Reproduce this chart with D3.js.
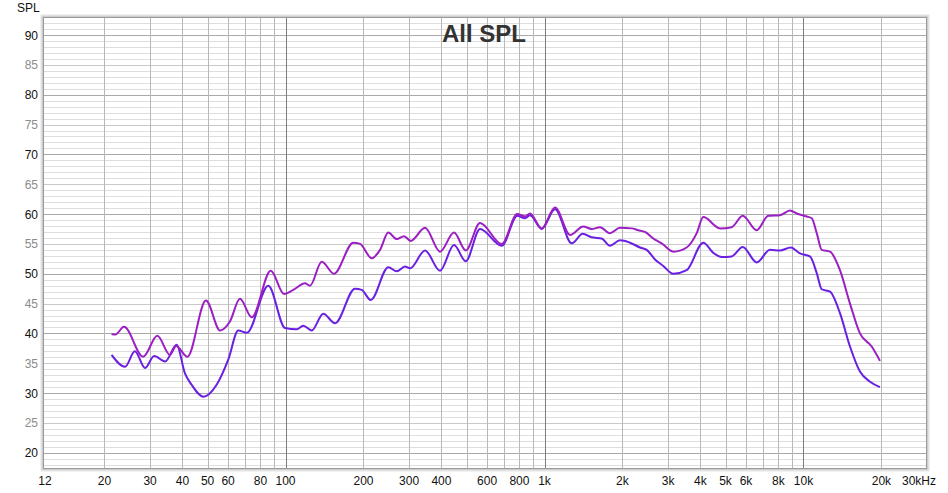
<!DOCTYPE html>
<html>
<head>
<meta charset="utf-8">
<script src="https://cdn.jsdelivr.net/npm/d3@7"></script>
<style>
  html, body { margin: 0; padding: 0; background: #fff; }
  svg { display: block; font-family: "Liberation Sans", Arial, sans-serif; }
</style>
</head>
<body>
<svg id="chart" width="948" height="493"></svg>
<script>
// ---- data ----
const title = "All SPL";
const yAxisTitle = "SPL";

const freqUpper = [21.3, 22.0, 23.8, 28.2, 32.0, 35.8, 37.8, 41.8, 49.3, 55.9, 61.0, 66.7, 74.1, 87.7, 98.7,
  107.2, 118.9, 124.3, 138.0, 153.9, 182.7, 194.0, 215.2, 231.7, 249.4, 268.8, 286.8, 304.3, 345.7, 395.0,
  447.3, 496.5, 563.6, 683.6, 785.2, 840.9, 879.0, 975.4, 1098, 1255, 1412, 1521, 1638, 1790, 1956, 2172,
  2302, 2443, 2671, 2835, 3143, 3540, 3870, 4103, 4761, 5282, 5826, 6596, 7312, 8115, 8870, 9413, 10290,
  10760, 11250, 11760, 12660, 13830, 15120, 16520, 18340, 19740];
const splUpper = [39.9, 39.8, 41.1, 36.1, 39.6, 36.4, 37.9, 36.1, 45.5, 40.5, 42.0, 45.8, 42.7, 50.5, 46.6,
  47.3, 48.4, 48.0, 52.0, 50.0, 55.2, 55.0, 52.6, 54.0, 56.9, 55.8, 56.3, 55.5, 57.7, 53.7,
  56.9, 53.9, 58.5, 55.0, 60.0, 59.6, 60.1, 57.6, 61.1, 56.5, 57.9, 57.5, 57.8, 56.8, 57.7, 57.6,
  57.3, 57.0, 55.7, 55.1, 53.7, 54.4, 56.8, 59.5, 57.6, 57.8, 59.7, 57.3, 59.7, 59.8, 60.6, 60.1, 59.6,
  59.3, 56.8, 54.0, 53.7, 50.6, 45.0, 40.0, 37.8, 35.4];

const freqLower = [21.3, 24.0, 26.2, 28.7, 31.1, 34.3, 38.0, 40.9, 43.4, 48.2, 54.2, 60.1, 65.7, 70.9, 85.8,
  99.6, 110.5, 117.1, 126.2, 139.9, 155.3, 185.5, 196.9, 213.3, 249.4, 268.8, 289.3, 302.5, 345.7, 395.0,
  447.3, 496.5, 563.6, 683.6, 785.2, 840.9, 879.0, 975.4, 1098, 1274, 1405, 1521, 1663, 1790, 1956, 2138,
  2338, 2481, 2671, 2875, 3143, 3540, 4103, 4485, 4833, 5282, 5826, 6596, 7425, 8115, 8925, 9694, 10590,
  11250, 11760, 12660, 13830, 15120, 16520, 18070, 19740];
const splLower = [36.4, 34.4, 37.0, 34.2, 36.2, 35.3, 38.1, 33.3, 31.4, 29.4, 31.4, 35.6, 40.5, 40.1, 48.0,
  40.9, 40.7, 41.3, 40.5, 43.3, 41.7, 47.5, 47.3, 45.6, 51.1, 50.4, 51.2, 50.9, 53.9, 50.5,
  54.8, 52.1, 57.5, 54.7, 59.7, 59.3, 59.8, 57.5, 60.8, 55.1, 56.7, 56.1, 55.9, 54.7, 55.6, 55.2,
  54.4, 54.0, 52.4, 51.3, 50.0, 50.6, 55.2, 53.5, 52.8, 52.9, 54.5, 51.9, 54.0, 53.9, 54.4, 53.4, 52.9,
  50.1, 47.4, 47.0, 43.4, 37.8, 33.6, 31.9, 31.0];

const xTickValues = [12, 20, 30, 40, 50, 60, 80, 100, 200, 300, 400, 600, 800, 1000, 2000, 3000, 4000, 5000, 6000, 8000, 10000, 20000];
const xTickLabels = ["12", "20", "30", "40", "50", "60", "80", "100", "200", "300", "400", "600", "800", "1k", "2k", "3k", "4k", "5k", "6k", "8k", "10k", "20k"];
const xEndLabel = "30kHz";
const xGridValues = [20, 30, 40, 50, 60, 70, 80, 90, 100, 200, 300, 400, 500, 600, 700, 800, 900, 1000,
  2000, 3000, 4000, 5000, 6000, 7000, 8000, 9000, 10000, 20000];
const xMajorGrid = [100, 1000, 10000];
const yTickValues = [20, 25, 30, 35, 40, 45, 50, 55, 60, 65, 70, 75, 80, 85, 90];

const colorUpper = "#9b1fc2";
const colorLower = "#6a20e2";

// ---- layout ----
const svg = d3.select("#chart");
const L = 44, R = 926, T = 18, B = 468;
const x = d3.scaleLog().domain([11.68, 29720]).range([L, R]);
const y = d3.scaleLinear().domain([17.45, 92.85]).range([B, T]);

// frame shadow
const frame = svg.append("g");
[[3, "#e4e4e4"], [2, "#cfcfcf"], [1, "#b4b4b4"]].forEach(([o, c]) => {
  frame.append("rect").attr("x", L - o).attr("y", T - o)
    .attr("width", R - L + 2 * o).attr("height", B - T + 2 * o)
    .attr("fill", "none").attr("stroke", c).attr("stroke-width", 1);
});
svg.append("rect").attr("x", L).attr("y", T).attr("width", R - L).attr("height", B - T).attr("fill", "#fff");

// horizontal grid
const yGrid = d3.range(18, 93, 1);
svg.append("g").selectAll("line").data(yGrid).join("line")
  .attr("x1", L).attr("x2", R)
  .attr("y1", d => Math.round(y(d)) + 0.5).attr("y2", d => Math.round(y(d)) + 0.5)
  .attr("stroke", d => d % 10 === 0 ? "#a9a9a9" : (d % 5 === 0 ? "#c8c8c8" : "#dedede"))
  .attr("stroke-width", 1);

// vertical grid
svg.append("g").selectAll("line").data(xGridValues).join("line")
  .attr("x1", d => Math.round(x(d)) + 0.5).attr("x2", d => Math.round(x(d)) + 0.5)
  .attr("y1", T).attr("y2", B)
  .attr("stroke", d => xMajorGrid.includes(d) ? "#7d7d7d" : "#b8b8b8")
  .attr("stroke-width", 1);

// frame border lines
svg.append("rect").attr("x", L - 0.5).attr("y", T - 0.5).attr("width", R - L + 1).attr("height", B - T + 1)
  .attr("fill", "none").attr("stroke", "#9a9a9a").attr("stroke-width", 1);

// axes text
const yAxisG = svg.append("g");
yAxisG.selectAll("text").data(yTickValues).join("text")
  .attr("x", 38).attr("y", d => y(d) + 4.5)
  .attr("text-anchor", "end").attr("font-size", 12)
  .attr("fill", d => d % 10 === 0 ? "#111" : "#8c8c8c")
  .text(d => d);
svg.append("text").attr("x", 17).attr("y", 12).attr("font-size", 12).attr("fill", "#111").text(yAxisTitle);

const xAxisG = svg.append("g");
xAxisG.selectAll("text").data(xTickValues).join("text")
  .attr("x", d => d === 12 ? L + 1 : x(d)).attr("y", 485)
  .attr("text-anchor", "middle").attr("font-size", 12).attr("fill", "#111")
  .text((d, i) => xTickLabels[i]);
svg.append("text").attr("x", 902).attr("y", 485).attr("font-size", 12).attr("fill", "#111").text(xEndLabel);

// title
svg.append("text").attr("x", 484).attr("y", 42).attr("text-anchor", "middle")
  .attr("font-size", 24).attr("font-weight", "bold").attr("fill", "#333").text(title);

// curves
svg.append("clipPath").attr("id", "clip").append("rect")
  .attr("x", L).attr("y", T).attr("width", R - L).attr("height", B - T);
const line = d3.line().x(d => x(d[0])).y(d => y(d[1])).curve(d3.curveMonotoneX);
const gCurves = svg.append("g").attr("clip-path", "url(#clip)");
gCurves.append("path").datum(d3.zip(freqLower, splLower))
  .attr("d", line).attr("fill", "none").attr("stroke", colorLower).attr("stroke-width", 2)
  .attr("stroke-linejoin", "round");
gCurves.append("path").datum(d3.zip(freqUpper, splUpper))
  .attr("d", line).attr("fill", "none").attr("stroke", colorUpper).attr("stroke-width", 2)
  .attr("stroke-linejoin", "round");
</script>
</body>
</html>
